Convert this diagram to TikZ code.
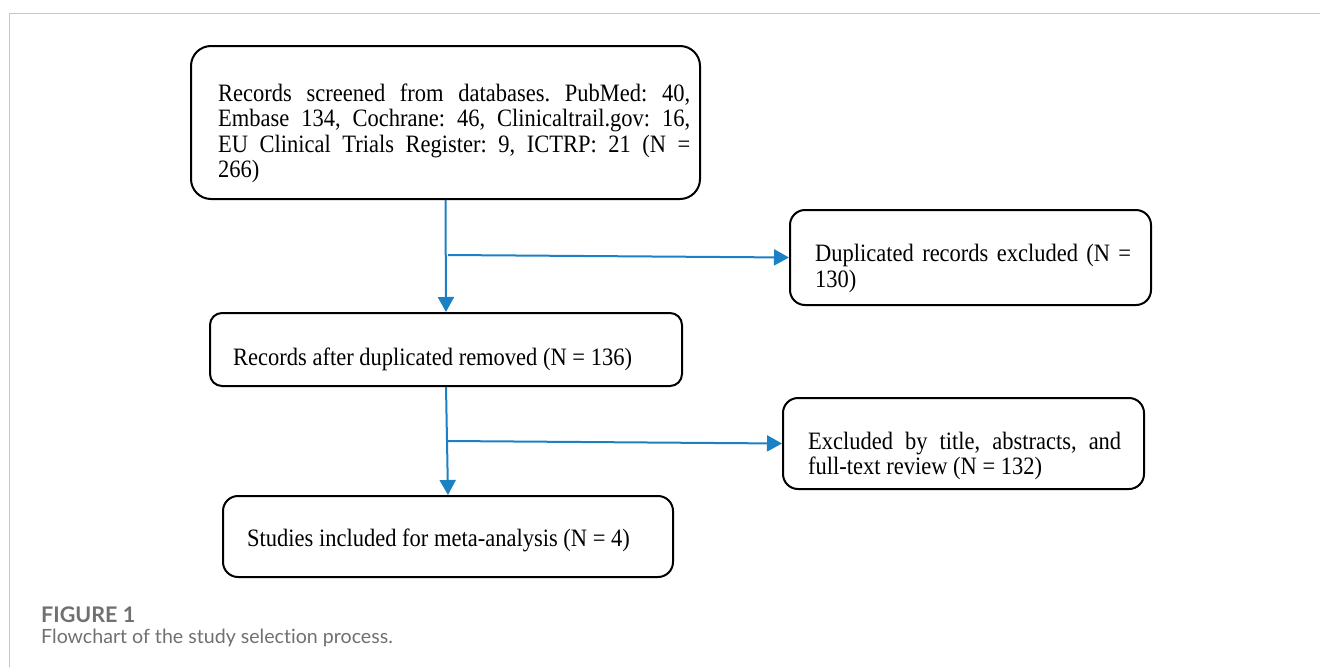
\documentclass[tikz,border=0pt]{standalone}
\usepackage{fontspec}
\setmainfont{Liberation Serif}[FakeStretch=0.9]
\newfontfamily\capfont{Lato}[Ligatures=NoCommon]
\usepackage{xcolor}
\usetikzlibrary{arrows.meta}
\definecolor{flowcol}{HTML}{1B80C4}
\definecolor{framecol}{HTML}{C6C6C6}
\definecolor{capcol}{HTML}{707070}
\frenchspacing

\tikzset{
  stagebox/.style={draw=black, line width=2pt, rounded corners=15pt, inner sep=0pt},
  stagetext/.style={anchor=base west, inner sep=0pt, align=left},
  flow/.style={-{Triangle[length=15pt,width=16pt]}, draw=flowcol, line width=2pt},
  capline/.style={anchor=base west, inner sep=0pt, text=capcol},
}

\begin{document}
\begin{tikzpicture}[x=1pt, y=-1pt, font=\fontsize{25}{25.5}\selectfont]
\useasboundingbox (0,0) rectangle (1320,667);
% page frame
\draw[framecol, line width=1.5pt] (9.5,667) -- (9.5,13.3) -- (1320,13.3);

% screened records
\node[stagebox, rounded corners=20pt, minimum width=509pt, minimum height=153pt] (screen) at (445.5,122.5) {};
\node[stagetext, align=justify, text width=472pt] (screentxt) at (218,101)
  {Records screened from databases. PubMed: 40,\linebreak
   Embase 134, Cochrane: 46, Clinicaltrail.gov: 16,\linebreak
   EU Clinical Trials Register: 9, ICTRP: 21 (N =\linebreak
   266)};

% duplicates out
\node[stagebox, minimum width=361pt, minimum height=95pt] (dupout) at (970.5,257.5) {};
\node[stagetext, text width=320pt] (dupouttxt) at (815,261.5)
  {Duplicated records excluded (N =\\ 130)};

% after removal
\node[stagebox, rounded corners=12pt, minimum width=472pt, minimum height=73pt] (dedup) at (446,349.5) {};
\node[stagetext] (deduptxt) at (233,365) {Records after duplicated removed (N = 136)};

% screening out
\node[stagebox, minimum width=361pt, minimum height=91pt] (fullout) at (963.5,443.5) {};
\node[stagetext, align=justify, text width=313pt] (fullouttxt) at (808,449.3)
  {Excluded by title, abstracts, and\linebreak full-text review (N = 132)};

% included
\node[stagebox, minimum width=450pt, minimum height=81pt] (included) at (448,536.5) {};
\node[stagetext] (includedtxt) at (247,546.7) {Studies included for meta-analysis (N = 4)};

% connectors
\coordinate (split1) at (448,255);
\coordinate (split2) at (448,441);
\draw[flow] (screen.south) -- (dedup.north);
\draw[flow] (split1) -- (dupout.west);
\draw[flow] (dedup.south) -- (included.north);
\draw[flow] (split2) -- (fullout.west);

% caption
\node[capline, font=\capfont\bfseries\fontsize{21.5}{21.5}\selectfont] (figlabel) at (41,622.5) {FIGURE 1};
\node[capline, font=\capfont\fontsize{19.6}{19.6}\selectfont] (figcaption) at (41,643) {Flowchart of the study selection process.};
\end{tikzpicture}
\end{document}
